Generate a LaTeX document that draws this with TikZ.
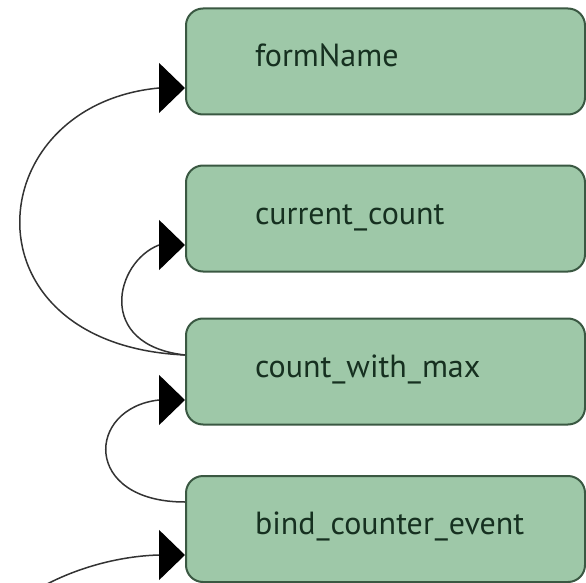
\documentclass[tikz,border=0pt]{standalone}
\usepackage{fontspec}
\setmainfont{PT Sans}
\usetikzlibrary{arrows.meta}
\definecolor{boxfill}{HTML}{9EC8A8}
\definecolor{boxline}{HTML}{3A5842}
\definecolor{boxtext}{HTML}{163020}
\definecolor{wire}{HTML}{333333}
\tikzset{
  varbox/.style={draw=boxline, line width=2pt, fill=boxfill, rounded corners=17pt,
    minimum width=399pt, minimum height=106pt, inner sep=0pt,
    text height=19pt, text depth=8pt, text=boxtext,
    font=\fontsize{32}{36}\selectfont},
  link/.style={draw=wire, line width=1.5pt, -{Triangle[length=26pt,width=50pt,color=black]}},
}
\newcommand{\lbl}[1]{\makebox[261pt][l]{#1}}
\newcommand{\us}{\kern1pt\_\kern1pt}
\begin{document}
\begin{tikzpicture}[x=1pt,y=-1pt]
\useasboundingbox (0,0) rectangle (586,583);
\node[varbox] (fn) at (385.5,61.5) {\lbl{formName}};
\node[varbox] (cc) at (385.5,218.5) {\lbl{current\us count}};
\node[varbox] (cm) at (385.5,371.5) {\lbl{count\us with\us max}};
\node[varbox] (bc) at (385.5,529) {\lbl{bind\us counter\us event}};
% arrow tips
\coordinate (fnT) at ([yshift=-26.5pt]fn.west);
\coordinate (ccT) at ([yshift=-26.5pt]cc.west);
\coordinate (cmT) at ([yshift=-28.5pt]cm.west);
\coordinate (bcT) at ([yshift=-26pt]bc.west);
% sources
\coordinate (cmS) at ([yshift=16.5pt]cm.west);
\coordinate (bcS) at ([yshift=27pt]bc.west);
\coordinate (ext) at (28,595);
\draw[link] (cmS) .. controls (-40,345) and (-22,105) .. ([xshift=-26pt]fnT) -- (fnT);
\draw[link] (cmS) .. controls (95,345) and (115,262) .. ([xshift=-26pt]ccT) -- (ccT);
\draw[link] (bcS) .. controls (82,502) and (86,408) .. ([xshift=-26pt]cmT) -- (cmT);
\draw[link] (ext) .. controls (70,568) and (120,556) .. ([xshift=-26pt]bcT) -- (bcT);
\end{tikzpicture}
\end{document}
